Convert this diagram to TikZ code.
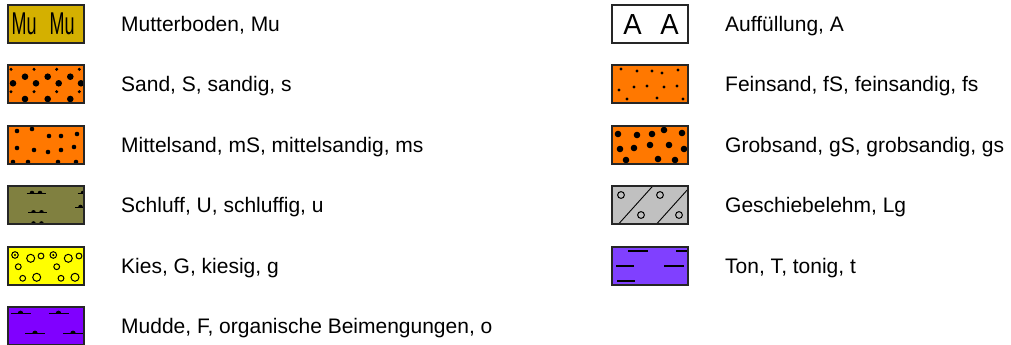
\documentclass[tikz,border=0pt]{standalone}
\usepackage{fontspec}
\setmainfont{Liberation Sans}
\definecolor{muyellow}{RGB}{212,176,0}
\definecolor{sandorange}{RGB}{255,120,0}
\definecolor{schluffolive}{RGB}{128,128,64}
\definecolor{kiesyellow}{RGB}{255,255,0}
\definecolor{muddeviolet}{RGB}{128,0,255}
\definecolor{tonviolet}{RGB}{128,64,255}
\definecolor{lggray}{RGB}{192,192,192}
\begin{document}
\begin{tikzpicture}[x=1pt,y=-1pt,
  swatch/.style={minimum width=76pt, minimum height=38pt, inner sep=0pt, outer sep=0pt, draw=none},
  border/.style={draw=black!85, line width=1.5pt},
  lbl/.style={anchor=base west, inner sep=0pt, font=\fontsize{21}{25}\selectfont},
  symline/.style={line width=1pt},
  ring/.style={draw=black, line width=1pt},
  tondash/.style={line width=2pt}]
\useasboundingbox (0,0) rectangle (1011,345);

% ---------- Mutterboden ----------
\node[swatch, fill=muyellow] (mu) at (46,24) {};
\begin{scope}[shift={(mu.north west)}]
  \clip (0,0) rectangle (76,38);
  \node[anchor=base, inner sep=0pt, font=\fontsize{31.5}{31.5}\selectfont] (mutext) at (35.2,30) {\scalebox{0.571}[1]{Mu\hspace*{22.8pt}Mu}};
\end{scope}
\draw[border] (mu.north west) rectangle (mu.south east);
\node[lbl] (lmu) at (121,31.5) {Mutterboden, Mu};

% ---------- Sand ----------
\node[swatch, fill=sandorange] (s) at (46,84) {};
\begin{scope}[shift={(s.north west)}]
  \clip (0,0) rectangle (76,38);
  \foreach \x in {3,26,48.7,71.3} {\foreach \y in {4.3,26.7} {\fill (\x,\y) circle[radius=1.7];}}
  \foreach \x in {17,39.7,62.3} {\foreach \y in {11.7,34} {\fill (\x,\y) circle[radius=3.3];}}
  \foreach \x in {5,28,50.7,73} {\fill (\x,18.3) circle[radius=3.3];}
\end{scope}
\draw[border] (s.north west) rectangle (s.south east);
\node[lbl] (ls) at (121,91.5) {Sand, S, sandig, s};

% ---------- Mittelsand ----------
\node[swatch, fill=sandorange] (ms) at (46,145) {};
\begin{scope}[shift={(ms.north west)}]
  \clip (0,0) rectangle (76,38);
  \foreach \p in {(9,5),(24,3),(41,10),(53,10),(69,8),(9,22),(26,24),(40,26),(53,24),(66,21),(5,36),(20,36),(50,36),(68,36)}
    {\fill \p circle[radius=2.3];}
\end{scope}
\draw[border] (ms.north west) rectangle (ms.south east);
\node[lbl] (lms) at (121,152.5) {Mittelsand, mS, mittelsandig, ms};

% ---------- Schluff ----------
\node[swatch, fill=schluffolive] (u) at (46,205) {};
\begin{scope}[shift={(u.north west)}]
  \clip (0,0) rectangle (76,38);
  \foreach \cx/\cy in {28/7,29.5/26.3,29.5/37.5,79/7,76.5/21} {
    \draw[symline] (\cx-9.5,\cy) -- (\cx+9.5,\cy);
    \fill (\cx-6.3,\cy) arc[start angle=180,end angle=360,radius=2.3] -- cycle;
    \fill (\cx+1.7,\cy) arc[start angle=180,end angle=360,radius=2.3] -- cycle;
  }
\end{scope}
\draw[border] (u.north west) rectangle (u.south east);
\node[lbl] (lu) at (121,212.5) {Schluff, U, schluffig, u};

% ---------- Kies ----------
\node[swatch, fill=kiesyellow] (g) at (46,266) {};
\begin{scope}[shift={(g.north west)}]
  \clip (0,0) rectangle (76,38);
  \foreach \p in {(7,8),(45.3,8)} {\draw[ring] \p circle[radius=3.3]; \fill \p circle[radius=1.2];}
  \foreach \p in {(22.7,11.3),(60.3,11.3),(28.7,30.3),(67,30.3)} {\draw[ring] \p circle[radius=4];}
  \foreach \p in {(33,9),(71,9),(10.3,19.7),(48.7,19.7),(14.7,31.3),(53,31.3)} {\draw[ring] \p circle[radius=2.9];}
\end{scope}
\draw[border] (g.north west) rectangle (g.south east);
\node[lbl] (lg) at (121,273.5) {Kies, G, kiesig, g};

% ---------- Mudde ----------
\node[swatch, fill=muddeviolet] (f) at (46,326) {};
\begin{scope}[shift={(f.north west)}]
  \clip (0,0) rectangle (76,38);
  \foreach \cx/\cy in {12.5/6.3,50.5/6.3,27/26.3,65/26.3} {
    \draw[symline] (\cx-10,\cy) -- (\cx+10,\cy);
    \fill (\cx-2.7,\cy) arc[start angle=180,end angle=360,radius=2.7] -- cycle;
  }
\end{scope}
\draw[border] (f.north west) rectangle (f.south east);
\node[lbl] (lf) at (121,333.5) {Mudde, F, organische Beimengungen, o};

% ---------- Auffuellung ----------
\node[swatch, fill=white] (a) at (650,24) {};
\begin{scope}[shift={(a.north west)}]
  \clip (0,0) rectangle (76,38);
  \node[anchor=base, inner sep=0pt, font=\fontsize{29}{29}\selectfont] (atext) at (39,30) {\scalebox{0.95}[1]{A\hspace*{19.5pt}A}};
\end{scope}
\draw[border] (a.north west) rectangle (a.south east);
\node[lbl] (la) at (725,31.5) {Auffüllung, A};

% ---------- Feinsand ----------
\node[swatch, fill=sandorange] (fs) at (650,84) {};
\begin{scope}[shift={(fs.north west)}]
  \clip (0,0) rectangle (76,38);
  \foreach \p in {(9,4),(25,6),(40,6),(50,8),(66,5),(7,25),(22,22),(35,21),(52,22),(65,21),(15,34),(45,33),(71,34)}
    {\fill \p circle[radius=1.7];}
\end{scope}
\draw[border] (fs.north west) rectangle (fs.south east);
\node[lbl] (lfs) at (725,91.5) {Feinsand, fS, feinsandig, fs};

% ---------- Grobsand ----------
\node[swatch, fill=sandorange] (gs) at (650,145) {};
\begin{scope}[shift={(gs.north west)}]
  \clip (0,0) rectangle (76,38);
  \foreach \p in {(6,8),(25,9),(40,8),(52,4),(70,7),(8,23),(22,22),(38,19),(57,19),(72,23),(14,34),(46,33),(63,34)}
    {\fill \p circle[radius=3.3];}
\end{scope}
\draw[border] (gs.north west) rectangle (gs.south east);
\node[lbl] (lgs) at (725,152.5) {Grobsand, gS, grobsandig, gs};

% ---------- Geschiebelehm ----------
\node[swatch, fill=lggray] (lgm) at (650,205) {};
\begin{scope}[shift={(lgm.north west)}]
  \clip (0,0) rectangle (76,38);
  \draw[line width=0.9pt] (6.6,38) -- (40.8,0);
  \draw[line width=0.9pt] (44.6,38) -- (78.8,0);
  \foreach \p in {(9,9),(48,9),(29,29),(67,29)} {\draw[ring] \p circle[radius=3.4];}
\end{scope}
\draw[border] (lgm.north west) rectangle (lgm.south east);
\node[lbl] (llg) at (725,212.5) {Geschiebelehm, Lg};

% ---------- Ton ----------
\node[swatch, fill=tonviolet] (t) at (650,266) {};
\begin{scope}[shift={(t.north west)}]
  \clip (0,0) rectangle (76,38);
  \draw[tondash] (16,3.5) -- (36,3.5);
  \draw[tondash] (64,3.5) -- (84,3.5);
  \draw[tondash] (4,19) -- (22,19);
  \draw[tondash] (52,19) -- (72,19);
  \draw[tondash] (5,34) -- (23,34);
\end{scope}
\draw[border] (t.north west) rectangle (t.south east);
\node[lbl] (lt) at (725,273.5) {Ton, T, tonig, t};
\end{tikzpicture}
\end{document}
